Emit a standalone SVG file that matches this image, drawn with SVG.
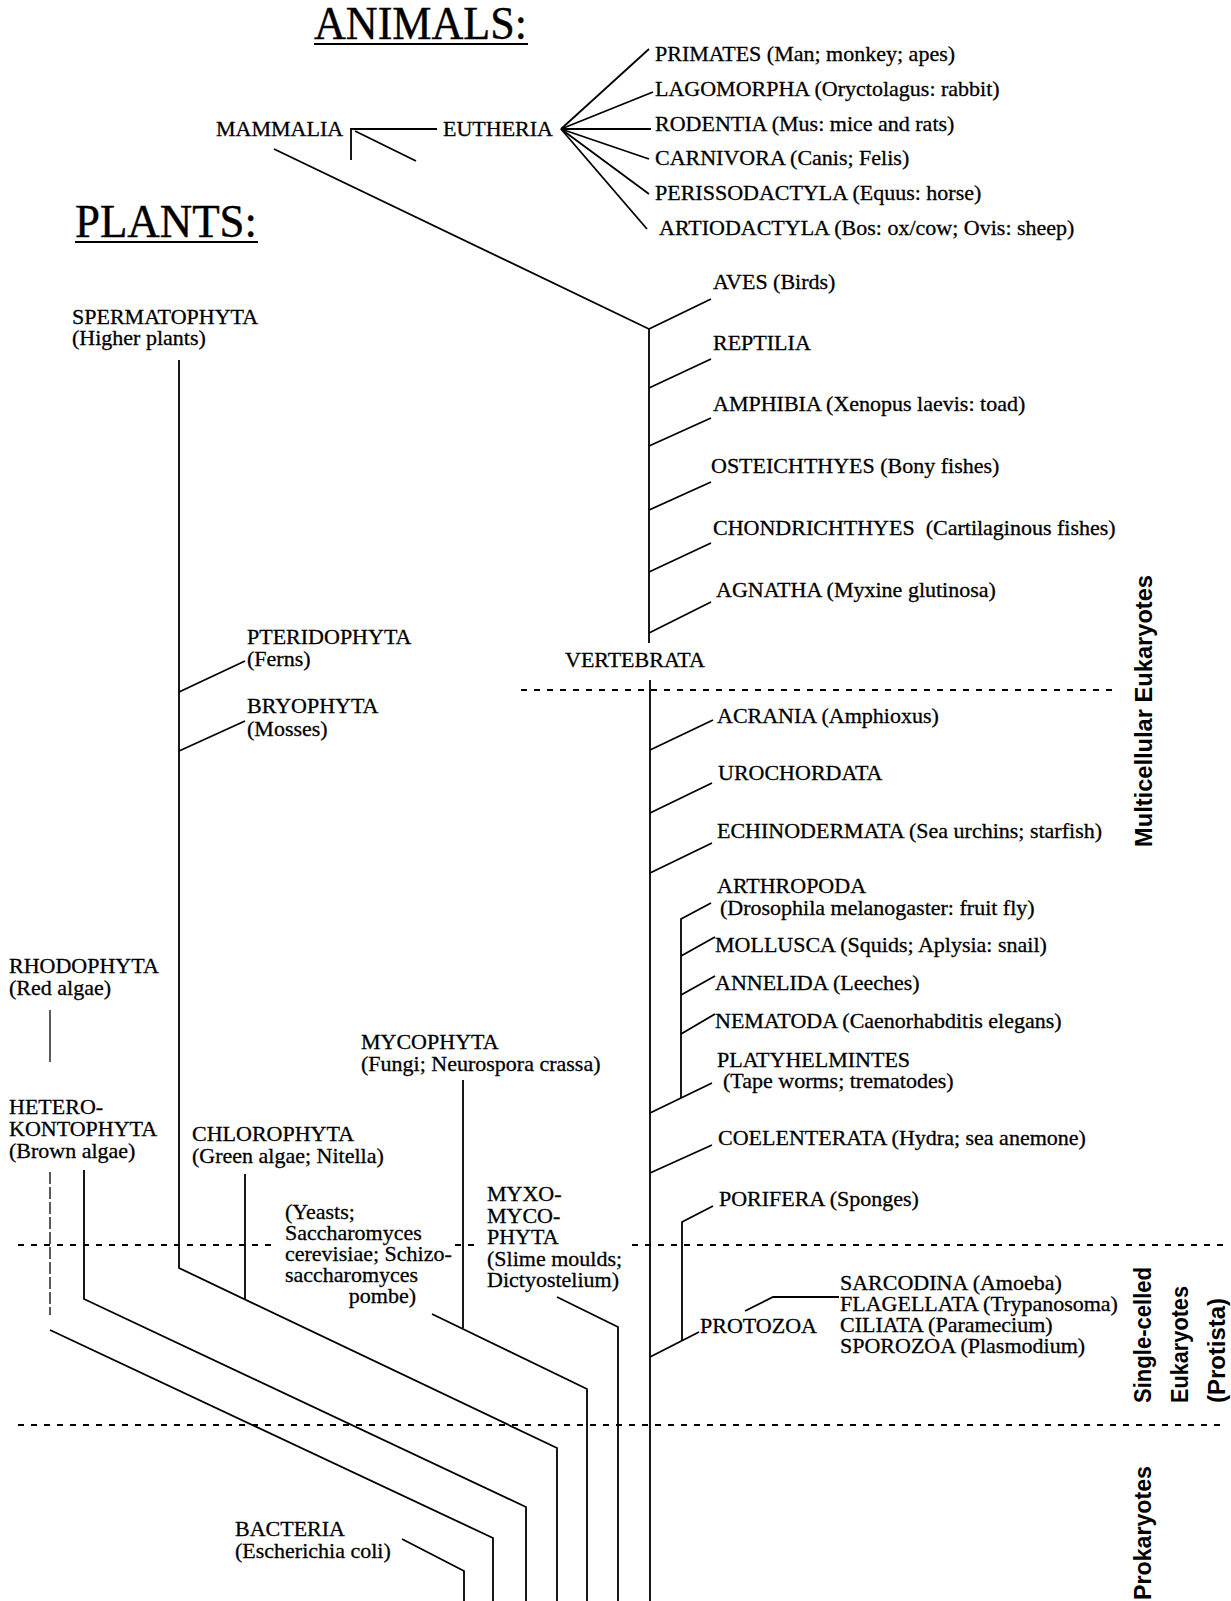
<svg xmlns="http://www.w3.org/2000/svg" width="1231" height="1601" viewBox="0 0 1231 1601">
<style>
.t{font-family:"Liberation Serif","Times New Roman",serif;font-size:22px;fill:#000;stroke:#000;stroke-width:0.3}
.ttl{font-family:"Liberation Serif","Times New Roman",serif;font-size:46px;fill:#000;stroke:#000;stroke-width:0.4}
.side{font-family:"Liberation Sans Narrow","Liberation Sans",sans-serif;font-weight:bold;font-size:23px;fill:#000}
.ln{stroke:#000;stroke-width:1.8;fill:none;stroke-linejoin:miter}
.thin{stroke:#000;stroke-width:1.3;fill:none}
.dash{stroke:#000;stroke-width:2;stroke-dasharray:6 7;fill:none}
.vdash{stroke:#000;stroke-width:1.3;stroke-dasharray:12 3;fill:none}
</style>
<rect width="1231" height="1601" fill="#fff"/>

<g id="titles">
  <text class="ttl" x="314" y="39" textLength="213" lengthAdjust="spacingAndGlyphs">ANIMALS:</text>
  <line class="ln" x1="314" y1="44" x2="528" y2="44" stroke-width="2.2"/>
  <text class="ttl" x="75" y="237" textLength="182" lengthAdjust="spacingAndGlyphs">PLANTS:</text>
  <line class="ln" x1="75" y1="242" x2="258" y2="242" stroke-width="2.2"/>
</g>

<g id="connectors">
  <!-- mammalia / eutheria -->
  <polyline class="ln" points="437,129 351,129 351,160"/>
  <line class="ln" x1="355" y1="131" x2="416" y2="161"/>
  <line class="ln" x1="274" y1="149" x2="649" y2="329"/>
  <!-- eutheria fan -->
  <line class="ln" x1="561" y1="129" x2="649" y2="49"/>
  <line class="ln" x1="561" y1="129" x2="653" y2="92"/>
  <line class="ln" x1="561" y1="129" x2="651" y2="129"/>
  <line class="ln" x1="561" y1="129" x2="649" y2="159"/>
  <line class="ln" x1="561" y1="129" x2="649" y2="194"/>
  <line class="ln" x1="561" y1="129" x2="647" y2="229"/>
  <!-- vertebrate trunk -->
  <line class="ln" x1="649" y1="329" x2="711" y2="299"/>
  <line class="ln" x1="649" y1="329" x2="649" y2="643"/>
  <line class="ln" x1="649" y1="388" x2="711" y2="359"/>
  <line class="ln" x1="649" y1="446" x2="711" y2="418"/>
  <line class="ln" x1="649" y1="510" x2="711" y2="482"/>
  <line class="ln" x1="649" y1="572" x2="711" y2="543"/>
  <line class="ln" x1="649" y1="633" x2="711" y2="602"/>
  <line class="ln" x1="650" y1="680" x2="650" y2="1601"/>
  <!-- invertebrates -->
  <line class="ln" x1="650" y1="750" x2="713" y2="720"/>
  <line class="ln" x1="650" y1="813" x2="712" y2="783"/>
  <line class="ln" x1="650" y1="873" x2="712" y2="843"/>
  <polyline class="ln" points="711,903 681,919 681,1098"/>
  <line class="ln" x1="681" y1="956" x2="715" y2="937"/>
  <line class="ln" x1="681" y1="995" x2="715" y2="976"/>
  <line class="ln" x1="681" y1="1034" x2="715" y2="1014"/>
  <line class="ln" x1="650" y1="1113" x2="712" y2="1083"/>
  <line class="ln" x1="650" y1="1173" x2="712" y2="1145"/>
  <polyline class="ln" points="713,1206 682,1222 682,1340"/>
  <line class="ln" x1="650" y1="1357" x2="699" y2="1332"/>
  <polyline class="ln" points="745,1311 773,1297 839,1297"/>
  <!-- plants -->
  <polyline class="ln" points="179,360 179,1268 557,1448 557,1601"/>
  <line class="ln" x1="179" y1="692" x2="245" y2="661"/>
  <line class="ln" x1="179" y1="751" x2="245" y2="721"/>
  <line class="thin" x1="50" y1="1010" x2="50" y2="1062"/>
  <line class="vdash" x1="50" y1="1172" x2="50" y2="1315"/>
  <polyline class="ln" points="50,1330 493,1538 493,1601"/>
  <polyline class="ln" points="84,1170 84,1299 526,1507 526,1601"/>
  <line class="ln" x1="245" y1="1174" x2="245" y2="1299"/>
  <line class="ln" x1="463" y1="1080" x2="463" y2="1328"/>
  <polyline class="ln" points="432,1314 587,1389 587,1601"/>
  <polyline class="ln" points="557,1297 618,1327 618,1601"/>
  <polyline class="ln" points="402,1539 464,1571 464,1601"/>
  <!-- dashed level separators -->
  <line class="dash" x1="521" y1="690" x2="1116" y2="690"/>
  <line class="dash" x1="18" y1="1245" x2="272" y2="1245"/>
  <line class="dash" x1="455" y1="1245" x2="478" y2="1245"/>
  <line class="dash" x1="632" y1="1245" x2="1225" y2="1245"/>
  <line class="dash" x1="18" y1="1425" x2="1225" y2="1425"/>
</g>

<g id="mammalia"><text class="t" x="216" y="136">MAMMALIA</text></g>
<g id="eutheria"><text class="t" x="443" y="136">EUTHERIA</text></g>
<g id="primates"><text class="t" x="655" y="61">PRIMATES (Man; monkey; apes)</text></g>
<g id="lagomorpha"><text class="t" x="655" y="96">LAGOMORPHA (Oryctolagus: rabbit)</text></g>
<g id="rodentia"><text class="t" x="655" y="131">RODENTIA (Mus: mice and rats)</text></g>
<g id="carnivora"><text class="t" x="655" y="165">CARNIVORA (Canis; Felis)</text></g>
<g id="perissodactyla"><text class="t" x="655" y="200">PERISSODACTYLA (Equus: horse)</text></g>
<g id="artiodactyla"><text class="t" x="659" y="235">ARTIODACTYLA (Bos: ox/cow; Ovis: sheep)</text></g>

<g id="aves"><text class="t" x="713" y="289">AVES (Birds)</text></g>
<g id="reptilia"><text class="t" x="713" y="350">REPTILIA</text></g>
<g id="amphibia"><text class="t" x="713" y="411">AMPHIBIA (Xenopus laevis: toad)</text></g>
<g id="osteichthyes"><text class="t" x="711" y="473">OSTEICHTHYES (Bony fishes)</text></g>
<g id="chondrichthyes"><text class="t" x="713" y="535" xml:space="preserve">CHONDRICHTHYES  (Cartilaginous fishes)</text></g>
<g id="agnatha"><text class="t" x="716" y="597">AGNATHA (Myxine glutinosa)</text></g>
<g id="vertebrata"><text class="t" x="565" y="667">VERTEBRATA</text></g>

<g id="acrania"><text class="t" x="717" y="723">ACRANIA (Amphioxus)</text></g>
<g id="urochordata"><text class="t" x="718" y="780">UROCHORDATA</text></g>
<g id="echinodermata"><text class="t" x="717" y="838">ECHINODERMATA (Sea urchins; starfish)</text></g>
<g id="arthropoda"><text class="t" x="717" y="893">ARTHROPODA</text><text class="t" x="720" y="915">(Drosophila melanogaster: fruit fly)</text></g>
<g id="mollusca"><text class="t" x="715" y="952">MOLLUSCA (Squids; Aplysia: snail)</text></g>
<g id="annelida"><text class="t" x="715" y="990">ANNELIDA (Leeches)</text></g>
<g id="nematoda"><text class="t" x="715" y="1028">NEMATODA (Caenorhabditis elegans)</text></g>
<g id="platyhelmintes"><text class="t" x="717" y="1067">PLATYHELMINTES</text><text class="t" x="723" y="1088">(Tape worms; trematodes)</text></g>
<g id="coelenterata"><text class="t" x="718" y="1145">COELENTERATA (Hydra; sea anemone)</text></g>
<g id="porifera"><text class="t" x="719" y="1206">PORIFERA (Sponges)</text></g>
<g id="protozoa"><text class="t" x="700" y="1333">PROTOZOA</text></g>
<g id="protozoa-classes">
  <text class="t" x="840" y="1290">SARCODINA (Amoeba)</text>
  <text class="t" x="840" y="1311">FLAGELLATA (Trypanosoma)</text>
  <text class="t" x="840" y="1332">CILIATA (Paramecium)</text>
  <text class="t" x="840" y="1353">SPOROZOA (Plasmodium)</text>
</g>

<g id="spermatophyta"><text class="t" x="72" y="324">SPERMATOPHYTA</text><text class="t" x="72" y="345">(Higher plants)</text></g>
<g id="pteridophyta"><text class="t" x="247" y="644">PTERIDOPHYTA</text><text class="t" x="247" y="666">(Ferns)</text></g>
<g id="bryophyta"><text class="t" x="247" y="713">BRYOPHYTA</text><text class="t" x="247" y="736">(Mosses)</text></g>
<g id="rhodophyta"><text class="t" x="9" y="973">RHODOPHYTA</text><text class="t" x="9" y="995">(Red algae)</text></g>
<g id="heterokontophyta"><text class="t" x="9" y="1114">HETERO-</text><text class="t" x="9" y="1136">KONTOPHYTA</text><text class="t" x="9" y="1158">(Brown algae)</text></g>
<g id="chlorophyta"><text class="t" x="192" y="1141">CHLOROPHYTA</text><text class="t" x="192" y="1163">(Green algae; Nitella)</text></g>
<g id="mycophyta"><text class="t" x="361" y="1049">MYCOPHYTA</text><text class="t" x="361" y="1071">(Fungi; Neurospora crassa)</text></g>
<g id="yeasts">
  <text class="t" x="285" y="1219">(Yeasts;</text>
  <text class="t" x="285" y="1240">Saccharomyces</text>
  <text class="t" x="285" y="1261">cerevisiae; Schizo-</text>
  <text class="t" x="285" y="1282">saccharomyces</text>
  <text class="t" x="416" y="1303" text-anchor="end">pombe)</text>
</g>
<g id="myxomycophyta">
  <text class="t" x="487" y="1201">MYXO-</text>
  <text class="t" x="487" y="1223">MYCO-</text>
  <text class="t" x="487" y="1244">PHYTA</text>
  <text class="t" x="487" y="1266">(Slime moulds;</text>
  <text class="t" x="487" y="1287">Dictyostelium)</text>
</g>
<g id="bacteria"><text class="t" x="235" y="1536">BACTERIA</text><text class="t" x="235" y="1558">(Escherichia coli)</text></g>

<g id="levels">
  <text class="side" transform="translate(1152,847) rotate(-90)" textLength="272" lengthAdjust="spacingAndGlyphs">Multicellular Eukaryotes</text>
  <text class="side" transform="translate(1151,1403) rotate(-90)" textLength="136" lengthAdjust="spacingAndGlyphs">Single-celled</text>
  <text class="side" transform="translate(1188,1403) rotate(-90)" textLength="117" lengthAdjust="spacingAndGlyphs">Eukaryotes</text>
  <text class="side" transform="translate(1225,1403) rotate(-90)" textLength="105" lengthAdjust="spacingAndGlyphs">(Protista)</text>
  <text class="side" transform="translate(1151,1600) rotate(-90)" textLength="134" lengthAdjust="spacingAndGlyphs">Prokaryotes</text>
</g>
</svg>
